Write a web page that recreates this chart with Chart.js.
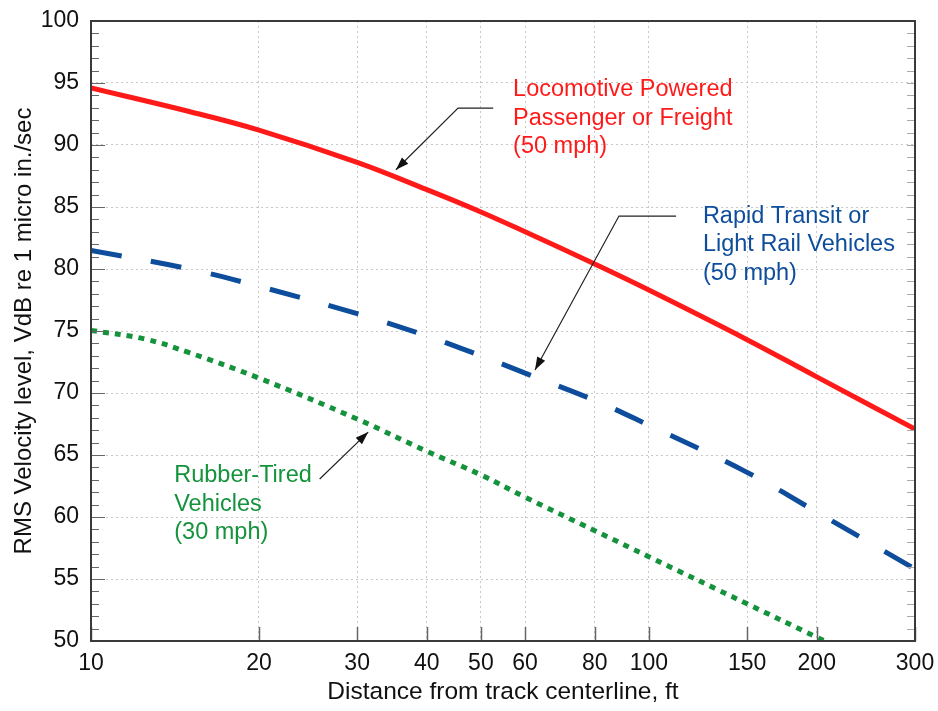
<!DOCTYPE html>
<html>
<head>
<meta charset="utf-8">
<script src="https://cdn.jsdelivr.net/npm/chart.js@4.4.1/dist/chart.umd.min.js"></script>
<style>
  html, body { margin: 0; padding: 0; background: #fff; }
  #wrap { width: 938px; height: 711px; }
</style>
</head>
<body>
<div id="wrap"><canvas id="chart"></canvas></div>
<script>
// values (distance in ft, level in VdB)
const distances = [10, 15, 20, 30, 40, 50, 60, 80, 100, 150, 200, 300];
const locomotive = [94.6, 92.7, 91.2, 88.6, 86.4, 84.6, 83.0, 80.4, 78.3, 74.3, 71.3, 67.1];
const rapidTransit = [81.5, 80.0, 78.6, 76.4, 74.6, 73.0, 71.6, 69.4, 67.4, 63.6, 60.4, 55.8];
const rubberDistances = [10, 12.5, 15, 20, 30, 40, 50, 60, 80, 100, 150, 200, 210];
const rubberTired = [75.05, 74.35, 73.25, 71.2, 67.9, 65.3, 63.4, 61.6, 58.9, 56.8, 53.0, 50.3, 49.85];

const xTicks = [10, 20, 30, 40, 50, 60, 80, 100, 150, 200, 300];
const yMin = 50, yMax = 100, yStep = 5;

// callouts, anchored in data units
const notes = [
  {
    lines: ['Locomotive Powered', 'Passenger or Freight', '(50 mph)'],
    color: '#ff1a1a',
    at: [57.1, 93.95],
    leader: [[52.6, 92.98], [45.5, 92.98], [35.2, 88.0]]
  },
  {
    lines: ['Rapid Transit or', 'Light Rail Vehicles', '(50 mph)'],
    color: '#0d4d9c',
    at: [125, 83.71],
    leader: [[111.9, 84.27], [88.4, 84.27], [62.5, 71.85]]
  },
  {
    lines: ['Rubber-Tired', 'Vehicles', '(30 mph)'],
    color: '#14923c',
    at: [14.1, 62.82],
    leader: [[25.7, 63.06], [31.4, 66.85]]
  }
];

const FONT = "'Liberation Sans', Arial, Helvetica, sans-serif";

const pairs = (xs, ys) => xs.map((x, i) => ({ x: x, y: ys[i] }));

const framePlugin = {
  id: 'frame',
  afterDatasetsDraw(chart) {
    const { ctx, chartArea: a, scales: { x, y } } = chart;
    ctx.save();

    // y ticks on both sides, pointing inward
    for (let v = yMin; v <= yMax; v++) {
      const py = Math.round(y.getPixelForValue(v)) + 0.5;
      const len = v % yStep === 0 ? 14 : 8;
      ctx.lineWidth = 1;
      ctx.strokeStyle = '#666';
      ctx.beginPath();
      ctx.moveTo(a.left, py);
      ctx.lineTo(a.left + len, py);
      ctx.stroke();
      ctx.strokeStyle = '#aaa';
      ctx.beginPath();
      ctx.moveTo(a.right, py);
      ctx.lineTo(a.right - 8, py);
      ctx.stroke();
    }
    // x ticks along the bottom
    ctx.strokeStyle = '#666';
    ctx.lineWidth = 1.5;
    xTicks.forEach(v => {
      const px = Math.round(x.getPixelForValue(v)) + 0.5;
      ctx.beginPath();
      ctx.moveTo(px, a.bottom);
      ctx.lineTo(px, a.bottom - 14);
      ctx.stroke();
    });

    // box
    ctx.strokeStyle = '#3a3a3a';
    ctx.lineWidth = 2;
    ctx.strokeRect(a.left, a.top, a.right - a.left, a.bottom - a.top);

    // callouts
    notes.forEach(n => {
      const pts = n.leader.map(p => [x.getPixelForValue(p[0]), y.getPixelForValue(p[1])]);
      ctx.strokeStyle = '#222';
      ctx.lineWidth = 1.2;
      ctx.beginPath();
      pts.forEach((p, i) => (i ? ctx.lineTo(p[0], p[1]) : ctx.moveTo(p[0], p[1])));
      ctx.stroke();

      const tip = pts[pts.length - 1], prev = pts[pts.length - 2];
      const ang = Math.atan2(tip[1] - prev[1], tip[0] - prev[0]);
      ctx.fillStyle = '#111';
      ctx.beginPath();
      ctx.moveTo(tip[0], tip[1]);
      ctx.lineTo(tip[0] - 13 * Math.cos(ang) + 4.5 * Math.sin(ang), tip[1] - 13 * Math.sin(ang) - 4.5 * Math.cos(ang));
      ctx.lineTo(tip[0] - 13 * Math.cos(ang) - 4.5 * Math.sin(ang), tip[1] - 13 * Math.sin(ang) + 4.5 * Math.cos(ang));
      ctx.closePath();
      ctx.fill();

      ctx.fillStyle = n.color;
      ctx.font = '23.5px ' + FONT;
      ctx.textAlign = 'left';
      ctx.textBaseline = 'alphabetic';
      const tx = x.getPixelForValue(n.at[0]);
      const ty = y.getPixelForValue(n.at[1]);
      n.lines.forEach((line, i) => ctx.fillText(line, tx, ty + i * 28.5));
    });

    ctx.restore();
  }
};

new Chart(document.getElementById('chart'), {
  type: 'line',
  data: {
    datasets: [
      {
        label: 'Locomotive Powered Passenger or Freight (50 mph)',
        data: pairs(distances, locomotive),
        borderColor: '#ff1a1a',
        borderWidth: 5,
        pointRadius: 0,
        tension: 0.4
      },
      {
        label: 'Rapid Transit or Light Rail Vehicles (50 mph)',
        data: pairs(distances, rapidTransit),
        borderColor: '#0d4d9c',
        borderWidth: 5,
        borderDash: [31, 30],
        pointRadius: 0,
        tension: 0.4
      },
      {
        label: 'Rubber-Tired Vehicles (30 mph)',
        data: pairs(rubberDistances, rubberTired),
        borderColor: '#14923c',
        borderWidth: 5,
        borderDash: [6, 6],
        pointRadius: 0,
        tension: 0.4
      }
    ]
  },
  options: {
    responsive: true,
    maintainAspectRatio: false,
    animation: false,
    layout: { padding: { top: 21, right: 23, left: 0, bottom: 0 } },
    plugins: {
      legend: { display: false },
      tooltip: { enabled: false }
    },
    scales: {
      x: {
        type: 'logarithmic',
        min: 10,
        max: 300,
        afterBuildTicks: s => { s.ticks = xTicks.map(v => ({ value: v })); },
        afterFit: s => { s.height = 70; s.paddingLeft = 0; s.paddingRight = 0; },
        ticks: {
          autoSkip: false,
          maxRotation: 0,
          padding: 9,
          color: '#111',
          font: { family: FONT, size: 23 },
          callback: v => String(v)
        },
        grid: { color: '#c8c8c8', lineWidth: 1, drawTicks: false },
        border: { display: false, dash: [2, 3] },
        title: {
          display: true,
          text: 'Distance from track centerline, ft',
          color: '#111',
          font: { family: FONT, size: 24.5 },
          padding: { top: 0, bottom: 4 }
        }
      },
      y: {
        min: yMin,
        max: yMax,
        afterFit: s => { s.width = 91; s.paddingTop = 0; s.paddingBottom = 0; },
        ticks: {
          stepSize: yStep,
          padding: 12,
          color: '#111',
          font: { family: FONT, size: 23 }
        },
        grid: { color: '#c8c8c8', lineWidth: 1, drawTicks: false },
        border: { display: false, dash: [2, 3] },
        title: {
          display: true,
          text: 'RMS Velocity level, VdB re 1 micro in./sec',
          color: '#111',
          font: { family: FONT, size: 24 },
          padding: { top: 10, bottom: 0 }
        }
      }
    }
  },
  plugins: [framePlugin]
});
</script>
</body>
</html>
